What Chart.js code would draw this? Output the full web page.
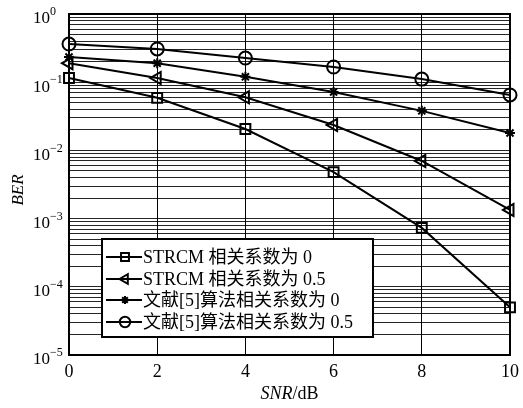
<!DOCTYPE html>
<html>
<head>
<meta charset="utf-8">
<script src="https://cdn.jsdelivr.net/npm/chart.js@4/dist/chart.umd.min.js"></script>
<style>
  html, body { margin: 0; padding: 0; background: #fff; }
  #wrap { width: 523px; height: 408px; }
</style>
</head>
<body>
<div id="wrap"><canvas id="myChart" width="523" height="408"></canvas></div>
<script>
'use strict'

const snr = [0, 2, 4, 6, 8, 10];
const xTicks = [0, 2, 4, 6, 8, 10];
const decades = [-5, -4, -3, -2, -1, 0];

const berStrcm0 = [0.115, 0.059, 0.0206, 0.0048, 0.00073, 0.00005];
const berStrcm05 = [0.19, 0.115, 0.06, 0.0236, 0.007, 0.00134];
const berRef0 = [0.234, 0.19, 0.12, 0.072, 0.038, 0.018];
const berRef05 = [0.363, 0.307, 0.226, 0.167, 0.111, 0.065];

const seriesLabels = [
  'STRCM 相关系数为 0',
  'STRCM 相关系数为 0.5',
  '文献[5]算法相关系数为 0',
  '文献[5]算法相关系数为 0.5',
];

const serif = '"Liberation Serif", "Noto Sans CJK SC", serif';

function makeSet(label, values, style, radius, rotation) {
  return {
    label: label,
    data: snr.map((x, i) => ({ x: x, y: values[i] })),
    borderColor: '#000',
    borderWidth: 2,
    backgroundColor: style === 'star' ? '#000' : 'rgba(0,0,0,0)',
    pointStyle: style,
    pointRadius: radius,
    pointRotation: rotation || 0,
    pointBorderWidth: 2,
    pointBorderColor: '#000',
    pointBackgroundColor: style === 'star' ? '#000' : 'rgba(0,0,0,0)',
    tension: 0,
    clip: false,
  };
}

const datasets = [
  makeSet(seriesLabels[0], berStrcm0, 'rect', 7),
  makeSet(seriesLabels[1], berStrcm05, 'triangle', 7, 270),
  makeSet(seriesLabels[2], berRef0, 'star', 5),
  makeSet(seriesLabels[3], berRef05, 'circle', 6.5),
];

// frame, tick labels, axis titles and legend
const decor = {
  id: 'decor',
  afterDraw(chart) {
    const ctx = chart.ctx;
    const a = chart.chartArea;
    const xs = chart.scales.x;
    const ys = chart.scales.y;
    ctx.save();
    ctx.strokeStyle = '#000';
    ctx.lineWidth = 2;
    ctx.strokeRect(a.left, a.top, a.right - a.left, a.bottom - a.top);

    ctx.fillStyle = '#000';
    ctx.textBaseline = 'middle';
    // y tick labels 10^n
    decades.forEach(e => {
      const py = ys.getPixelForValue(Math.pow(10, e));
      ctx.font = '17px ' + serif;
      ctx.textAlign = 'left';
      ctx.fillText('10', 33, py + 5);
      ctx.font = '12px ' + serif;
      ctx.fillText(e === 0 ? '0' : '\u2212' + (-e), 50, py - 2);
    });
    // x tick labels
    ctx.font = '18px ' + serif;
    ctx.textAlign = 'center';
    xTicks.forEach(v => {
      ctx.fillText(String(v), xs.getPixelForValue(v), 372);
    });
    // x title
    const t1 = 'SNR';
    const t2 = '/dB';
    ctx.font = 'italic 18px ' + serif;
    const w1 = ctx.measureText(t1).width;
    ctx.font = '18px ' + serif;
    const w2 = ctx.measureText(t2).width;
    const cx = (a.left + a.right) / 2;
    const sx = cx - (w1 + w2) / 2;
    ctx.textAlign = 'left';
    ctx.font = 'italic 18px ' + serif;
    ctx.fillText(t1, sx, 394);
    ctx.font = '18px ' + serif;
    ctx.fillText(t2, sx + w1, 394);
    // y title
    ctx.save();
    ctx.translate(19, 190);
    ctx.rotate(-Math.PI / 2);
    ctx.textAlign = 'center';
    ctx.font = 'italic 17px ' + serif;
    ctx.fillText('BER', 0, 0);
    ctx.restore();

    // legend
    const bx = 102, by = 239, bw = 271, bh = 98;
    ctx.fillStyle = '#fff';
    ctx.fillRect(bx, by, bw, bh);
    ctx.strokeStyle = '#000';
    ctx.lineWidth = 2;
    ctx.strokeRect(bx, by, bw, bh);
    const rows = [257, 279, 300, 322];
    chart.data.datasets.forEach((ds, i) => {
      const ry = rows[i];
      ctx.strokeStyle = '#000';
      ctx.lineWidth = 2;
      ctx.beginPath();
      ctx.moveTo(106, ry);
      ctx.lineTo(142, ry);
      ctx.stroke();
      ctx.fillStyle = ds.pointBackgroundColor;
      ctx.strokeStyle = '#000';
      ctx.lineWidth = 2;
      Chart.helpers.drawPoint(ctx, {
        pointStyle: ds.pointStyle,
        rotation: ds.pointRotation,
        borderWidth: 2,
        radius: ds.pointRadius * 0.8,
      }, 125, ry);
      ctx.fillStyle = '#000';
      ctx.font = '18px ' + serif;
      ctx.textAlign = 'left';
      ctx.fillText(ds.label, 143, ry + 1);
    });
    ctx.restore();
  }
};

const config = {
  type: 'line',
  data: { datasets: datasets },
  options: {
    responsive: false,
    animation: false,
    layout: { padding: { top: 14, right: 13, left: 0, bottom: 0 } },
    plugins: { legend: { display: false }, tooltip: { enabled: false } },
    scales: {
      x: {
        type: 'linear',
        min: 0,
        max: 10,
        ticks: { stepSize: 2, display: false },
        grid: { color: '#000', lineWidth: 1, drawTicks: false },
        border: { display: false },
        afterFit(scale) { scale.height = 53; },
      },
      y: {
        type: 'logarithmic',
        min: 1e-5,
        max: 1,
        afterBuildTicks(scale) {
          const t = [];
          decades.forEach(e => {
            for (let m = 1; m <= 9; m++) {
              if (e === 0 && m > 1) break;
              t.push({ value: m * Math.pow(10, e) });
            }
          });
          scale.ticks = t;
        },
        ticks: { display: false },
        grid: { color: 'rgba(0,0,0,0.85)', lineWidth: 1, drawTicks: false },
        border: { display: false },
        afterFit(scale) { scale.width = 69; },
      },
    },
  },
  plugins: [decor],
};

const myChart = new Chart(document.getElementById('myChart'), config);
</script>
</body>
</html>
